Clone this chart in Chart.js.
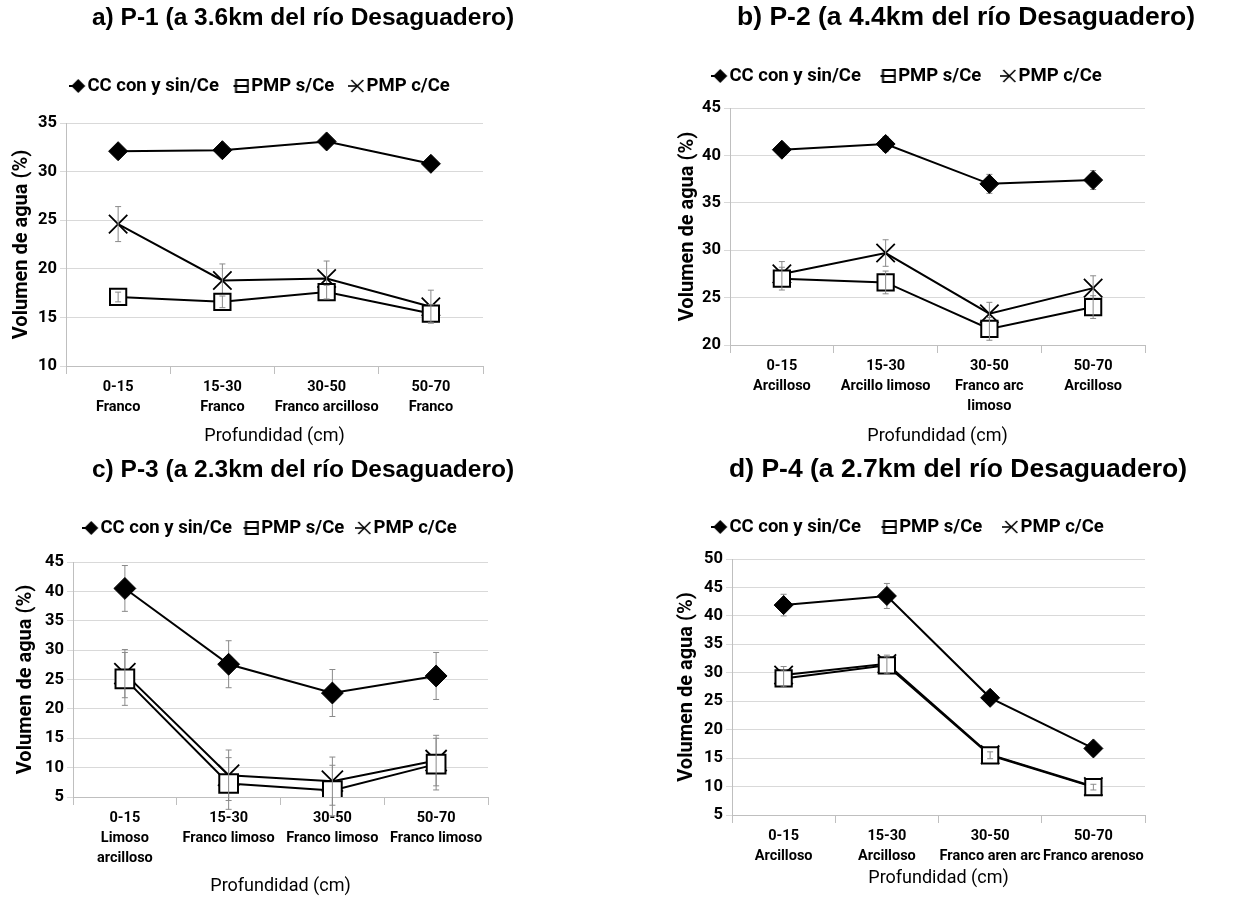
<!DOCTYPE html>
<html>
<head>
<meta charset="utf-8">
<script src="https://cdn.jsdelivr.net/npm/chart.js@4.4.1/dist/chart.umd.min.js"></script>
<style>
  html, body { margin: 0; padding: 0; background: #fff; }
  body { width: 1254px; height: 897px; position: relative; overflow: hidden; }
  .panel { position: absolute; }
</style>
</head>
<body>
<div class="panel"><canvas id="chartA"></canvas></div>
<div class="panel"><canvas id="chartB"></canvas></div>
<div class="panel"><canvas id="chartC"></canvas></div>
<div class="panel"><canvas id="chartD"></canvas></div>
<script>
// ---- data ----
const seriesNames = ['CC con y sin/Ce', 'PMP s/Ce', 'PMP c/Ce'];

const labelsA = [['0-15', 'Franco'], ['15-30', 'Franco'], ['30-50', 'Franco arcilloso'], ['50-70', 'Franco']];
const ccA = [32.1, 32.2, 33.1, 30.8];
const sinA = [17.1, 16.6, 17.6, 15.4];
const conA = [24.6, 18.8, 19.0, 16.1];
const ccErrA = [0, 0, 0, 0];
const sinErrA = [0.5, 0.6, 0.7, 0.9];
const conErrA = [1.8, 1.7, 1.8, 1.7];

const labelsB = [['0-15', 'Arcilloso'], ['15-30', 'Arcillo limoso'], ['30-50', 'Franco arc', 'limoso'], ['50-70', 'Arcilloso']];
const ccB = [40.6, 41.2, 37.0, 37.4];
const sinB = [27.0, 26.6, 21.7, 24.0];
const conB = [27.5, 29.7, 23.3, 26.0];
const ccErrB = [0.6, 0.8, 1.0, 1.0];
const sinErrB = [1.2, 1.2, 1.2, 1.2];
const conErrB = [1.3, 1.4, 1.2, 1.3];

const labelsC = [['0-15', 'Limoso', 'arcilloso'], ['15-30', 'Franco limoso'], ['30-50', 'Franco limoso'], ['50-70', 'Franco limoso']];
const ccC = [40.5, 27.6, 22.7, 25.6];
const sinC = [25.1, 7.3, 6.1, 10.6];
const conC = [26.0, 8.7, 7.7, 11.2];
const ccErrC = [3.9, 4.0, 4.0, 4.0];
const sinErrC = [4.5, 4.4, 4.3, 4.4];
const conErrC = [4.1, 4.3, 4.1, 4.3];

const labelsD = [['0-15', 'Arcilloso'], ['15-30', 'Arcilloso'], ['30-50', 'Franco aren arc'], ['50-70', 'Franco arenoso']];
const ccD = [41.9, 43.5, 25.6, 16.7];
const sinD = [29.0, 31.3, 15.5, 9.9];
const conD = [29.6, 31.6, 15.6, 10.0];
const ccErrD = [1.9, 2.2, 0.6, 0.5];
const sinErrD = [1.5, 1.5, 0.6, 0.5];
const conErrD = [1.5, 1.5, 0.6, 0.5];

const yRangeA = [10, 35];
const yRangeB = [20, 45];
const yRangeC = [5, 45];
const yRangeD = [5, 50];

// ---- look ----
const NARROW = "Roboto, 'DejaVu Sans Condensed', sans-serif";
const WIDE = "'Liberation Sans', Arial, sans-serif";
const LEGEND_FS = 18.5;

// page-pixel layout of each panel: canvas box, plot area and text anchors
const layoutA = { box: [0, 0, 606, 450], area: [66, 123, 483, 366], titleX: 303, titleY: 18, titleSize: 24.5, legendY: 86, legendX: 263, legendGap: 21, yTitleX: 22, xTitleY: 436, marker: 1 };
const layoutB = { box: [676, 0, 578, 450], area: [730, 108, 1145, 345], titleX: 966, titleY: 18, titleSize: 26.5, legendY: 76, legendX: 910, legendGap: 26, yTitleX: 686, xTitleY: 436, marker: 1 };
const layoutC = { box: [0, 450, 606, 447], area: [73, 562, 488, 797], titleX: 303, titleY: 470, titleSize: 24.5, legendY: 528, legendX: 273, legendGap: 18, yTitleX: 26, xTitleY: 887, marker: 1.15 };
const layoutD = { box: [662, 450, 592, 447], area: [732, 559, 1145, 815], titleX: 958, titleY: 470, titleSize: 26.5, legendY: 527, legendX: 911, legendGap: 27, yTitleX: 687, xTitleY: 878, marker: 1 };

// small line+marker icons for the legend, like the original
function makeIcon(kind) {
    var c = document.createElement('canvas');
    c.width = 17; c.height = 16;
    var g = c.getContext('2d');
    g.strokeStyle = '#000'; g.fillStyle = '#000'; g.lineWidth = 2;
    var cx = 9.5, cy = 8;
    if (kind === 'rectRot') {
        g.beginPath(); g.moveTo(0, cy); g.lineTo(cx, cy); g.stroke();
        g.beginPath(); g.moveTo(cx, cy - 7); g.lineTo(cx + 7, cy); g.lineTo(cx, cy + 7); g.lineTo(cx - 7, cy); g.closePath(); g.fill();
    } else if (kind === 'rect') {
        g.fillStyle = '#fff'; g.fillRect(cx - 6, cy - 6, 12, 12);
        g.strokeRect(cx - 6, cy - 6, 12, 12);
        g.beginPath(); g.moveTo(1, cy); g.lineTo(cx + 6, cy); g.stroke();
    } else {
        g.lineWidth = 1.6;
        g.beginPath(); g.moveTo(0, cy); g.lineTo(cx, cy); g.stroke();
        g.beginPath(); g.moveTo(cx - 6, cy - 6); g.lineTo(cx + 6, cy + 6); g.moveTo(cx + 6, cy - 6); g.lineTo(cx - 6, cy + 6); g.stroke();
    }
    return c;
}
const legendIcons = [makeIcon('rectRot'), makeIcon('rect'), makeIcon('crossRot')];

function drawErrors(chart, index) {
    var ds = chart.data.datasets[index];
    if (!ds.errors) return;
    var meta = chart.getDatasetMeta(index);
    var yScale = chart.scales.y;
    var ctx = chart.ctx;
    ctx.save();
    ctx.strokeStyle = '#8a8a8a';
    ctx.lineWidth = 1;
    meta.data.forEach(function(pt, i) {
        var e = ds.errors[i];
        if (!e) return;
        var top = yScale.getPixelForValue(ds.data[i] + e);
        var bot = yScale.getPixelForValue(ds.data[i] - e);
        ctx.beginPath();
        ctx.moveTo(pt.x, top); ctx.lineTo(pt.x, bot);
        ctx.moveTo(pt.x - 3, top); ctx.lineTo(pt.x + 3, top);
        ctx.moveTo(pt.x - 3, bot); ctx.lineTo(pt.x + 3, bot);
        ctx.stroke();
    });
    ctx.restore();
}

const errorBars = {
    id: 'errorBars',
    beforeDatasetDraw(chart, args) {
        if (chart.data.datasets[args.index].errorsBehind) drawErrors(chart, args.index);
    },
    afterDatasetDraw(chart, args) {
        if (!chart.data.datasets[args.index].errorsBehind) drawErrors(chart, args.index);
    }
};

// keep the legend on one row, add room under it and slide title/legend sideways
const headerTweak = {
    id: 'headerTweak',
    beforeLayout(chart) {
        var legend = chart.legend;
        if (!legend || legend._tweaked) return;
        var fit = legend.fit;
        legend.fit = function() {
            this.maxWidth = Math.max(this.maxWidth, 2000);
            fit.call(this);
            this.height += chart.options.plugins.headerTweak.extra;
        };
        legend._tweaked = true;
    },
    afterLayout(chart, args, opts) {
        chart.legend.left += opts.legendDx;
        chart.legend.right += opts.legendDx;
        chart.titleBlock.left += opts.titleDx;
        chart.titleBlock.right += opts.titleDx;
    }
};

function buildChart(id, lay, titleText, labels, cc, sin, con, ccErr, sinErr, conErr, yRange) {
    var bx = lay.box[0], by = lay.box[1], bw = lay.box[2], bh = lay.box[3];
    var L = lay.area[0], T = lay.area[1], R = lay.area[2], B = lay.area[3];
    var holder = document.getElementById(id).parentNode;
    holder.style.left = bx + 'px';
    holder.style.top = by + 'px';
    holder.style.width = bw + 'px';
    holder.style.height = bh + 'px';

    var titleLH = lay.titleSize * 1.2;
    var legendTop = lay.legendY - lay.legendGap - LEGEND_FS / 2;
    var titlePadTop = Math.max(0, lay.titleY - by - titleLH / 2);
    var titlePadBottom = Math.max(0, legendTop - lay.titleY - titleLH / 2);
    var legendExtra = T - (legendTop + LEGEND_FS + lay.legendGap + 10);
    var yWidth = L - bx;
    var xHeight = by + bh - B;
    var padRight = bx + bw - R;
    var headerCenter = bx + (bw - padRight) / 2;
    var m = lay.marker;

    return new Chart(document.getElementById(id), {
        type: 'line',
        data: {
            labels: labels,
            datasets: [
                { label: seriesNames[0], data: cc, errors: ccErr, errorsBehind: true,
                  borderColor: '#000', backgroundColor: '#000', borderWidth: 2,
                  pointStyle: 'rectRot', pointRadius: 9.5 * m, pointBorderWidth: 1,
                  pointBackgroundColor: '#000', pointBorderColor: '#000' },
                { label: seriesNames[1], data: sin, errors: sinErr,
                  borderColor: '#000', backgroundColor: '#fff', borderWidth: 2,
                  pointStyle: 'rect', pointRadius: 11.5 * m, pointBorderWidth: 2,
                  pointBackgroundColor: '#fff', pointBorderColor: '#000' },
                { label: seriesNames[2], data: con, errors: conErr,
                  borderColor: '#000', backgroundColor: '#000', borderWidth: 2,
                  pointStyle: 'crossRot', pointRadius: 13 * m, pointBorderWidth: 1.8,
                  pointBackgroundColor: '#000', pointBorderColor: '#000' }
            ]
        },
        options: {
            responsive: true,
            maintainAspectRatio: false,
            animation: false,
            layout: { padding: { left: 0, right: padRight, top: 0, bottom: 0 } },
            elements: { line: { tension: 0 } },
            plugins: {
                tooltip: { enabled: false },
                title: {
                    display: true,
                    text: titleText,
                    color: '#000',
                    font: { family: WIDE, size: lay.titleSize, weight: 'bold', lineHeight: 1.2 },
                    padding: { top: titlePadTop, bottom: titlePadBottom }
                },
                legend: {
                    display: true,
                    position: 'top',
                    labels: {
                        usePointStyle: true,
                        pointStyleWidth: 2,
                        padding: lay.legendGap,
                        color: '#000',
                        font: { family: NARROW, size: LEGEND_FS, weight: 'bold' },
                        generateLabels: function(chart) {
                            var items = Chart.defaults.plugins.legend.labels.generateLabels(chart);
                            items.forEach(function(it, i) { it.pointStyle = legendIcons[i]; });
                            return items;
                        }
                    }
                },
                headerTweak: {
                    extra: legendExtra,
                    legendDx: lay.legendX - headerCenter,
                    titleDx: lay.titleX - headerCenter
                }
            },
            scales: {
                x: {
                    offset: true,
                    grid: { offset: true, drawOnChartArea: false, tickLength: 8, color: '#bfbfbf' },
                    border: { color: '#bfbfbf' },
                    ticks: {
                        color: '#000', padding: 4, maxRotation: 0, autoSkip: false,
                        font: { family: NARROW, size: 14.5, weight: 'bold', lineHeight: 1.35 }
                    },
                    title: {
                        display: true,
                        text: 'Profundidad (cm)',
                        color: '#000',
                        font: { family: NARROW, size: 18, lineHeight: 1.2 },
                        padding: { top: 0, bottom: Math.max(0, by + bh - lay.xTitleY - 11) }
                    },
                    afterFit: function(scale) { scale.height = xHeight; }
                },
                y: {
                    min: yRange[0],
                    max: yRange[1],
                    ticks: {
                        stepSize: 5, color: '#000', padding: 3, autoSkip: false,
                        font: { family: NARROW, size: 16.5, weight: 'bold' }
                    },
                    grid: { color: '#d9d9d9', tickLength: 6 },
                    border: { color: '#bfbfbf' },
                    title: {
                        display: true,
                        text: 'Volumen de agua (%)',
                        color: '#000',
                        font: { family: NARROW, size: 20, weight: 'bold', lineHeight: 1.2 },
                        padding: { top: Math.max(0, lay.yTitleX - bx - 12), bottom: 0 }
                    },
                    afterFit: function(scale) { scale.width = yWidth; }
                }
            }
        },
        plugins: [errorBars, headerTweak]
    });
}

buildChart('chartA', layoutA, 'a) P-1 (a 3.6km del río Desaguadero)', labelsA, ccA, sinA, conA, ccErrA, sinErrA, conErrA, yRangeA);
buildChart('chartB', layoutB, 'b) P-2 (a 4.4km del río Desaguadero)', labelsB, ccB, sinB, conB, ccErrB, sinErrB, conErrB, yRangeB);
buildChart('chartC', layoutC, 'c) P-3 (a 2.3km del río Desaguadero)', labelsC, ccC, sinC, conC, ccErrC, sinErrC, conErrC, yRangeC);
buildChart('chartD', layoutD, 'd) P-4 (a 2.7km del río Desaguadero)', labelsD, ccD, sinD, conD, ccErrD, sinErrD, conErrD, yRangeD);
</script>
</body>
</html>
